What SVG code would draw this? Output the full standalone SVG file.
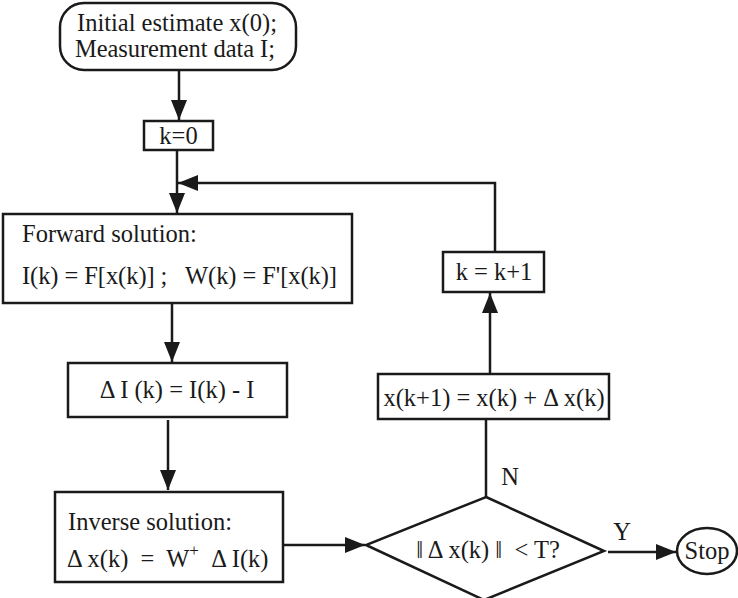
<svg xmlns="http://www.w3.org/2000/svg" width="738" height="598" viewBox="0 0 738 598">
<style>
.b{fill:#fff;stroke:#1a1a1a;stroke-width:2.5}
.t{font-family:"Liberation Serif","Times New Roman",serif;font-size:24.5px;fill:#1a1a1a;white-space:pre}
.c{stroke:#1a1a1a;stroke-width:2.5;fill:none}
</style>
<defs>
<marker id="a" viewBox="0 0 20 16" refX="20" refY="8" markerWidth="20" markerHeight="16" markerUnits="userSpaceOnUse" orient="auto">
<path d="M0,0 L20,8 L0,16 z" fill="#1a1a1a"/>
</marker>
</defs>
<rect width="738" height="598" fill="#fff"/>
<g id="connectors">
<path class="c" d="M179,71 V120" marker-end="url(#a)"/>
<path class="c" d="M177,150 V213" marker-end="url(#a)"/>
<path class="c" d="M495,252 V183 H178" marker-end="url(#a)"/>
<path class="c" d="M172,303 V362" marker-end="url(#a)"/>
<path class="c" d="M168,420 V490" marker-end="url(#a)"/>
<path class="c" d="M283,545 H365" marker-end="url(#a)"/>
<path class="c" d="M486,497 V375" marker-end="url(#a)"/>
<path class="c" d="M490,373 V293" marker-end="url(#a)"/>
<path class="c" d="M608,552 H676" marker-end="url(#a)"/>
</g>
<g id="start">
<rect class="b" x="60" y="3" width="236" height="67" rx="24"/>
<text class="t" x="77" y="31" textLength="200">Initial estimate x(0);</text>
<text class="t" x="75" y="57" textLength="200">Measurement data I;</text>
</g>
<g id="k0">
<rect class="b" x="144" y="121" width="69" height="29"/>
<text class="t" x="178.5" y="144" text-anchor="middle">k=0</text>
</g>
<g id="forward">
<rect class="b" x="3" y="214" width="349" height="89"/>
<text class="t" x="22" y="242">Forward solution:</text>
<text class="t" x="22" y="284" textLength="315">I(k) = F[x(k)] ;   W(k) = F'[x(k)]</text>
</g>
<g id="deltaI">
<rect class="b" x="68" y="363" width="219" height="54"/>
<text class="t" x="177" y="398" text-anchor="middle">Δ I (k) = I(k) - I</text>
</g>
<g id="inverse">
<rect class="b" x="55" y="492" width="228" height="90"/>
<text class="t" x="68" y="530">Inverse solution:</text>
<text class="t" x="67" y="567">Δ x(k)  =  W<tspan font-size="17" dy="-11">+</tspan><tspan dy="11">  Δ I(k)</tspan></text>
</g>
<g id="decision">
<path class="b" d="M486,497 L604,551 L484,600 L366,545 Z"/>
<text class="t" x="488" y="558" text-anchor="middle">‖ Δ x(k) ‖  &lt; T?</text>
<text class="t" x="510" y="485" text-anchor="middle">N</text>
<text class="t" x="622" y="540" text-anchor="middle">Y</text>
</g>
<g id="update">
<rect class="b" x="378" y="374" width="231" height="45"/>
<text class="t" x="494" y="406" text-anchor="middle">x(k+1) = x(k) + Δ x(k)</text>
</g>
<g id="kinc">
<rect class="b" x="443" y="252" width="101" height="40"/>
<text class="t" x="494" y="280" text-anchor="middle">k = k+1</text>
</g>
<g id="stop">
<ellipse class="b" cx="707" cy="551" rx="30" ry="23"/>
<text class="t" x="707" y="559" text-anchor="middle" font-size="22">Stop</text>
</g>
</svg>
